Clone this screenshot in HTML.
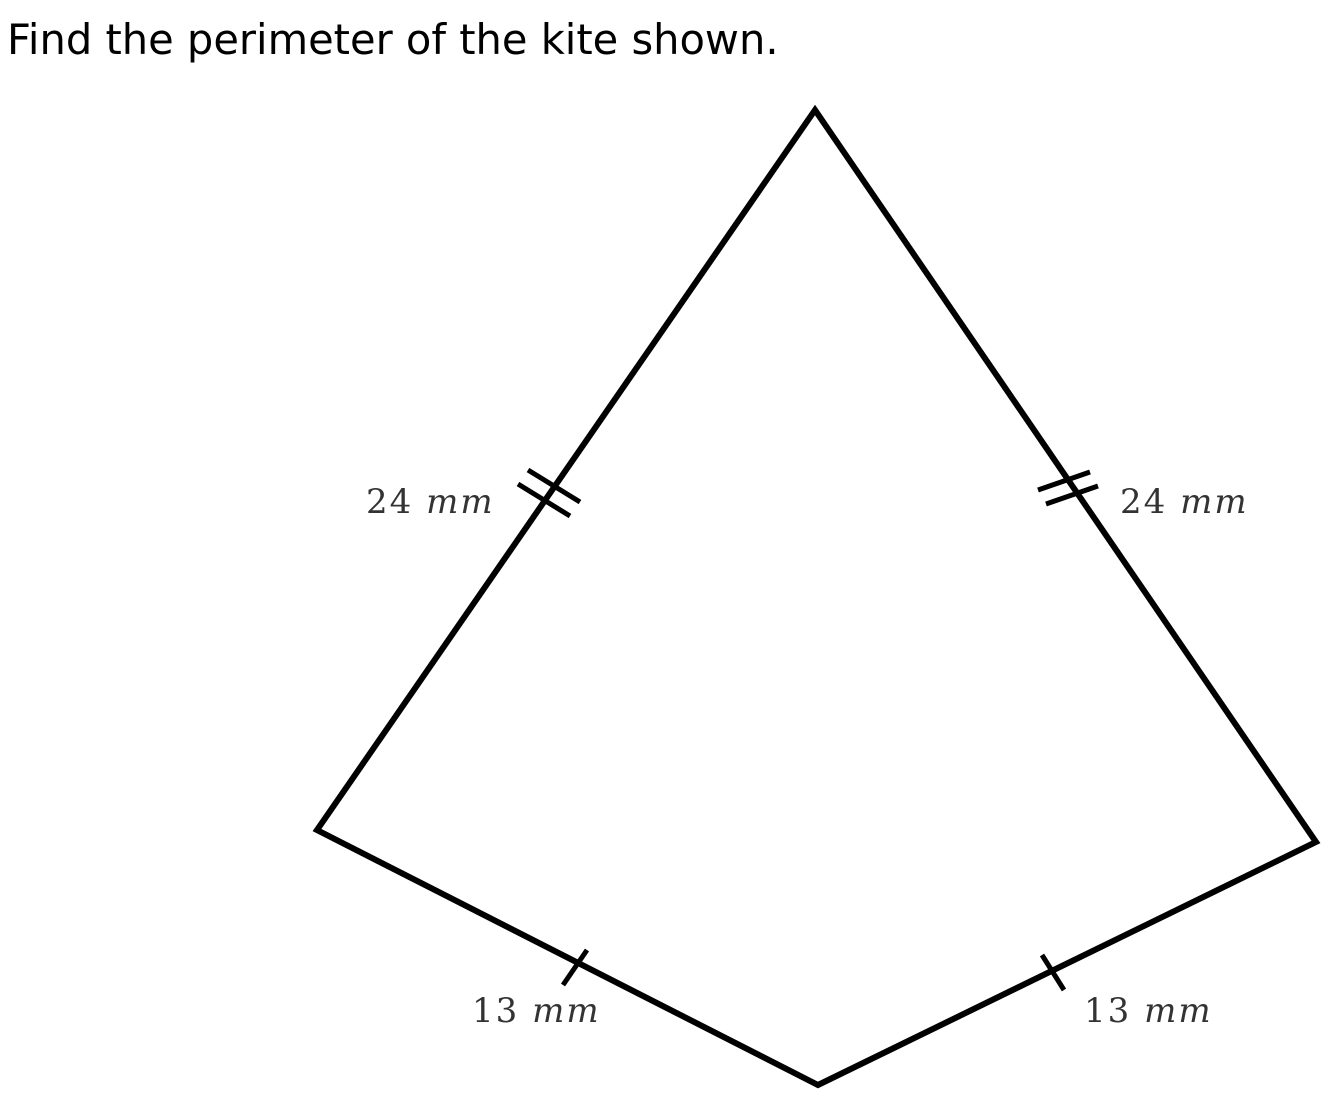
<!DOCTYPE html>
<html>
<head>
<meta charset="utf-8">
<style>
html,body{margin:0;padding:0;background:#fff;}
body{width:1332px;height:1108px;position:relative;overflow:hidden;}
#title{position:absolute;left:7px;top:15px;font-family:"DejaVu Sans","Liberation Sans",sans-serif;font-size:41.6px;color:#000;white-space:nowrap;}
svg{position:absolute;left:0;top:0;}
.lbl{font-family:"DejaVu Serif","Liberation Serif",serif;font-size:34px;fill:#333;letter-spacing:2px;}
</style>
</head>
<body>
<div id="title">Find the perimeter of the kite shown.</div>
<svg width="1332" height="1108">
  <polygon points="815,110 1316,842 818,1085 317,830" fill="none" stroke="#000" stroke-width="6" stroke-linejoin="miter"/>
  <g stroke="#000" stroke-width="5">
    <line x1="518" y1="484" x2="570" y2="516"/>
    <line x1="528" y1="470" x2="580" y2="502"/>
  </g>
  <g stroke="#000" stroke-width="5">
    <line x1="1038" y1="490" x2="1090" y2="472"/>
    <line x1="1046" y1="504" x2="1098" y2="486"/>
  </g>
  <line x1="563" y1="985" x2="587" y2="950" stroke="#000" stroke-width="5"/>
  <line x1="1042" y1="955" x2="1064" y2="990" stroke="#000" stroke-width="5"/>
  <text class="lbl" x="366" y="513">24 <tspan font-style="italic">mm</tspan></text>
  <text class="lbl" x="1120" y="513">24 <tspan font-style="italic">mm</tspan></text>
  <text class="lbl" x="472" y="1022">13 <tspan font-style="italic">mm</tspan></text>
  <text class="lbl" x="1084" y="1022">13 <tspan font-style="italic">mm</tspan></text>
</svg>
</body>
</html>
